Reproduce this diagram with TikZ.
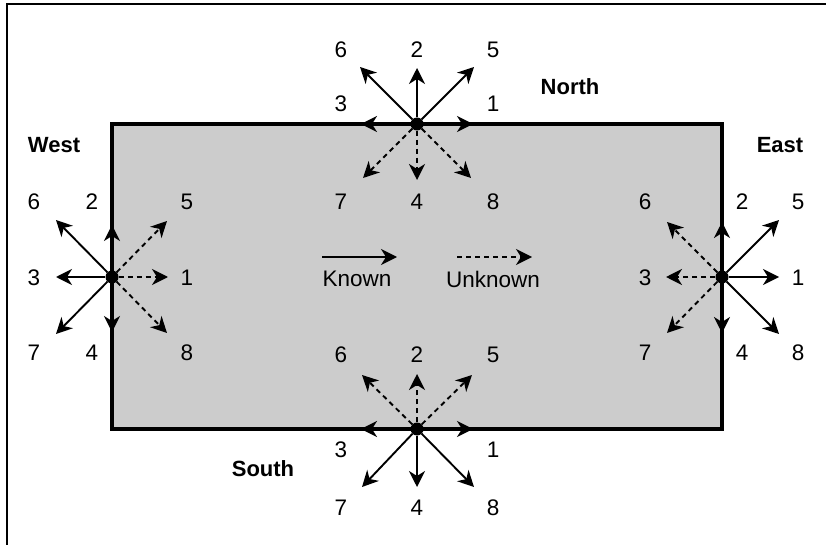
\documentclass[tikz,border=0pt]{standalone}
\usepackage{fontspec}
\setmainfont{Liberation Sans}
\usetikzlibrary{arrows.meta}
\tikzset{
  known/.style={line width=1.9pt, -{Stealth[length=16pt,width=16pt,inset=5pt]}},
  unknown/.style={known, dash pattern=on 5pt off 4pt},
  num/.style={font=\fontsize{22.5}{24}\selectfont, inner sep=0pt},
  side/.style={font=\fontsize{22}{24}\selectfont\bfseries, inner sep=0pt},
  port/.style={circle, fill=black, inner sep=0pt, minimum size=13pt},
}
\begin{document}
\begin{tikzpicture}[x=1pt, y=-1pt]
        \useasboundingbox (0,0) rectangle (829,545);
        \draw[line width=1.5pt] (7,545) -- (7,4) -- (826,4);
        \draw[line width=3.5pt, fill=gray!40] (112,124) rectangle (722,429);

        % North
        \node (N) at (417, 124) [port] {};
        \coordinate (N1) at (473, 124);
        \coordinate (N2) at (417, 68);
        \coordinate (N3) at (361, 124);
        \coordinate (N4) at (417, 180);
        \coordinate (N5) at (474, 67);
        \coordinate (N6) at (360, 67);
        \coordinate (N7) at (363, 178);
        \coordinate (N8) at (471, 178);

        \draw[known] (N) -- (N1);
        \draw[known] (N) -- (N2);
        \draw[known] (N) -- (N3);
        \draw[unknown] (N) -- (N4);
        \draw[known] (N) -- (N5);
        \draw[known] (N) -- (N6);
        \draw[unknown] (N) -- (N7);
        \draw[unknown] (N) -- (N8);

        \node (ln1) at (493, 104) [num] {1};
        \node (ln2) at (417, 50) [num] {2};
        \node (ln3) at (341, 104) [num] {3};
        \node (ln4) at (417, 202) [num] {4};
        \node (ln5) at (493, 50) [num] {5};
        \node (ln6) at (341, 50) [num] {6};
        \node (ln7) at (341, 202) [num] {7};
        \node (ln8) at (493, 202) [num] {8};
        \node (north) at (570, 87) [side] {North};

        % South
        \node (S) at (417, 429) [port] {};
        \coordinate (S1) at (473, 429);
        \coordinate (S2) at (417, 374);
        \coordinate (S3) at (361, 429);
        \coordinate (S4) at (417, 487);
        \coordinate (S5) at (472, 375);
        \coordinate (S6) at (362, 375);
        \coordinate (S7) at (362, 487);
        \coordinate (S8) at (474, 487);

        \draw[known] (S) -- (S1);
        \draw[unknown] (S) -- (S2);
        \draw[known] (S) -- (S3);
        \draw[known] (S) -- (S4);
        \draw[unknown] (S) -- (S5);
        \draw[unknown] (S) -- (S6);
        \draw[known] (S) -- (S7);
        \draw[known] (S) -- (S8);

        \node (ls1) at (493, 450) [num] {1};
        \node (ls2) at (417, 355) [num] {2};
        \node (ls3) at (341, 450) [num] {3};
        \node (ls4) at (417, 508) [num] {4};
        \node (ls5) at (493, 355) [num] {5};
        \node (ls6) at (341, 355) [num] {6};
        \node (ls7) at (341, 508) [num] {7};
        \node (ls8) at (493, 508) [num] {8};
        \node (south) at (263, 469) [side] {South};

        % West
        \node (W) at (112, 277) [port] {};
        \coordinate (W1) at (168, 277);
        \coordinate (W2) at (112, 225);
        \coordinate (W3) at (56, 277);
        \coordinate (W4) at (112, 332);
        \coordinate (W5) at (167, 221);
        \coordinate (W6) at (56, 220);
        \coordinate (W7) at (56, 334);
        \coordinate (W8) at (167, 333);

        \draw[unknown] (W) -- (W1);
        \draw[known] (W) -- (W2);
        \draw[known] (W) -- (W3);
        \draw[known] (W) -- (W4);
        \draw[unknown] (W) -- (W5);
        \draw[known] (W) -- (W6);
        \draw[known] (W) -- (W7);
        \draw[unknown] (W) -- (W8);

        \node (lw1) at (187, 278) [num] {1};
        \node (lw2) at (92, 202) [num] {2};
        \node (lw3) at (34, 278) [num] {3};
        \node (lw4) at (92, 353) [num] {4};
        \node (lw5) at (187, 202) [num] {5};
        \node (lw6) at (34, 202) [num] {6};
        \node (lw7) at (34, 353) [num] {7};
        \node (lw8) at (187, 353) [num] {8};
        \node (west) at (54, 145) [side] {West};

        % East
        \node (E) at (722, 277) [port] {};
        \coordinate (E1) at (779, 277);
        \coordinate (E2) at (722, 222);
        \coordinate (E3) at (666, 277);
        \coordinate (E4) at (722, 333);
        \coordinate (E5) at (779, 220);
        \coordinate (E6) at (667, 222);
        \coordinate (E7) at (667, 333);
        \coordinate (E8) at (779, 334);

        \draw[known] (E) -- (E1);
        \draw[known] (E) -- (E2);
        \draw[unknown] (E) -- (E3);
        \draw[known] (E) -- (E4);
        \draw[known] (E) -- (E5);
        \draw[unknown] (E) -- (E6);
        \draw[unknown] (E) -- (E7);
        \draw[known] (E) -- (E8);

        \node (le1) at (798, 278) [num] {1};
        \node (le2) at (742, 202) [num] {2};
        \node (le3) at (645, 278) [num] {3};
        \node (le4) at (742, 353) [num] {4};
        \node (le5) at (798, 202) [num] {5};
        \node (le6) at (645, 202) [num] {6};
        \node (le7) at (645, 353) [num] {7};
        \node (le8) at (798, 353) [num] {8};
        \node (east) at (780, 145) [side] {East};

        % legend
        \coordinate (k1) at (322, 257);
        \coordinate (k2) at (397, 257);
        \coordinate (u1) at (457, 257);
        \coordinate (u2) at (532, 257);
        \draw[known] (k1) -- (k2);
        \draw[unknown] (u1) -- (u2);
        \node (known) at (357, 279) [num] {Known};
        \node (unknown) at (493, 279) [num] {Unknown};
    \end{tikzpicture}
\end{document}
